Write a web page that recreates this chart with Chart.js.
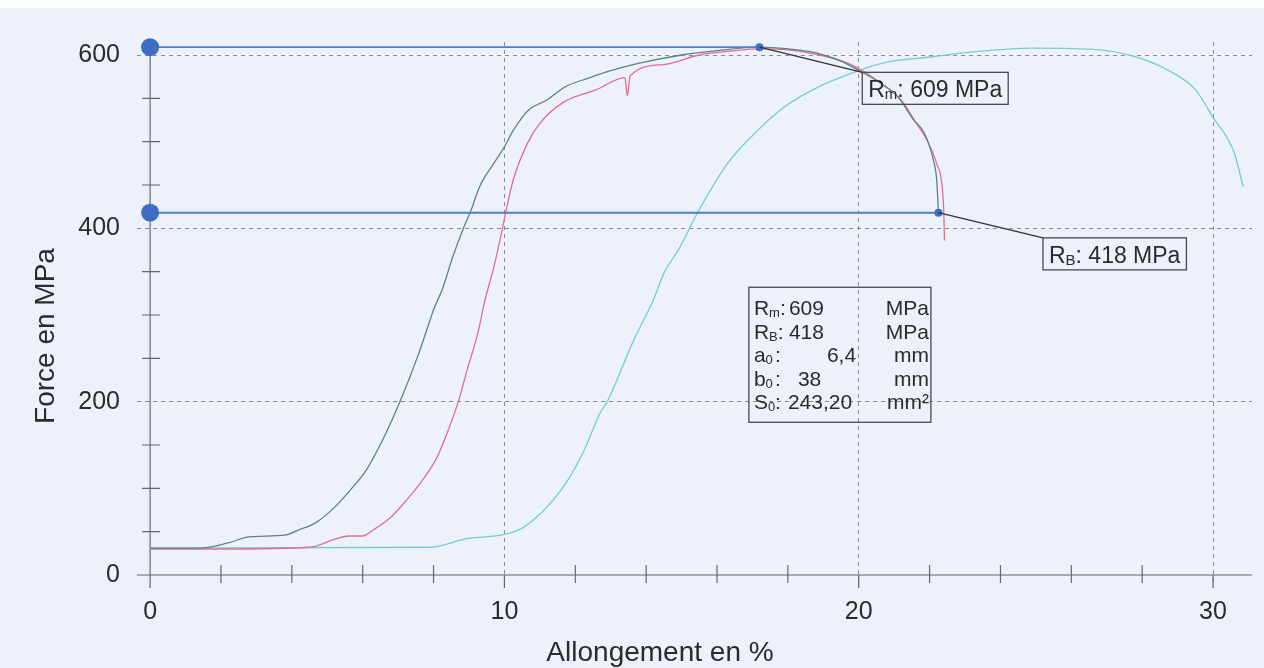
<!DOCTYPE html>
<html>
<head>
<meta charset="utf-8">
<script src="https://cdn.jsdelivr.net/npm/chart.js@4.4.1/dist/chart.umd.min.js"></script>
<style>
  html, body { margin: 0; padding: 0; }
  body { width: 1264px; height: 668px; overflow: hidden;
         background: linear-gradient(#ffffff 0, #ffffff 8px, #edf1f9 8px); }
  #wrap { width: 1264px; height: 668px; position: relative; }
</style>
</head>
<body>
<div id="wrap"><canvas id="tractionChart"></canvas></div>
<script>
// essai de traction, 3 eprouvettes (allongement en %, contrainte en MPa)
const strainA = [0, 1.4, 2.2, 2.8, 3.8, 4.2, 4.7, 5.2, 5.65, 6.1, 6.6, 7.05, 7.55, 7.9, 8.0, 8.25, 8.55, 8.85, 9.05, 9.3, 9.7, 10.0, 10.25, 10.7, 11.2, 11.7, 12.35, 13.1, 13.75, 15.0, 16.0, 17.2, 18.0, 18.85, 19.5, 20.05, 20.6, 21.1, 21.55, 21.85, 22.1, 22.2, 22.25];
const stressA = [31, 31, 37, 44, 46, 52, 61, 78, 98, 121, 159, 200, 252, 294, 306, 330, 368, 401, 420, 448, 475, 494, 513, 537, 548, 563, 573, 583, 590, 600, 605, 609, 607, 602, 593, 581, 568, 552, 525, 510, 480, 456, 419];

const strainB = [0, 2, 4.5, 5.2, 5.6, 6.0, 6.3, 6.8, 7.25, 7.7, 8.1, 8.45, 8.7, 8.95, 9.25, 9.45, 9.7, 9.95, 10.05, 10.25, 10.65, 11.0, 11.65, 12.6, 13.4, 13.47, 13.55, 14.5, 15.5, 16.5, 17.2, 18.0, 18.9, 19.6, 20.1, 20.7, 21.2, 21.6, 21.95, 22.2, 22.35, 22.4, 22.42];
const stressB = [30, 30, 32, 41, 45, 45, 52, 67, 87, 110, 136, 171, 200, 237, 279, 317, 355, 401, 421, 456, 498, 521, 545, 560, 574, 553, 576, 589, 600, 605, 607, 606, 600, 592, 582, 565, 548, 523, 500, 475, 450, 420, 386];

const strainC = [0, 7.9, 8.95, 9.9, 10.4, 10.8, 11.3, 11.8, 12.25, 12.7, 12.9, 13.65, 14.2, 14.5, 14.95, 15.45, 16.3, 17.15, 17.9, 18.85, 19.8, 20.7, 22.1, 23.1, 24.9, 26.8, 27.8, 28.7, 29.5, 30.0, 30.6, 30.85];
const stressC = [31, 32, 42, 46, 52, 63, 83, 110, 144, 187, 200, 271, 317, 348, 378, 418, 475, 513, 540, 563, 579, 591, 598, 603, 608, 606, 598, 583, 560, 528, 487, 448];

// Rm et RB
const rm = 609, rmStrain = 17.2;
const rb = 418, rbStrain = 22.25;
const rmLabelAt = [20.1, 580];
const rbLabelAt = [25.2, 389];

// tableau des caracteristiques
const tableAt = [16.9, 332];
const tableLabels = ['R', 'R', 'a', 'b', 'S'];
const tableSubs = ['m', 'B', '0', '0', '0'];
const tableValues = ['609', '418', '6,4', '38', '243,20'];
const tableUnits = ['MPa', 'MPa', 'mm', 'mm', 'mm\u00b2'];

const xMajor = [0, 10, 20, 30];
const yMajor = [0, 200, 400, 600];
const xTitle = 'Allongement en %';
const yTitle = 'Force en MPa';

const FONT = "'Liberation Sans', Arial, sans-serif";
const toPoints = (xs, ys) => xs.map((v, i) => ({ x: v, y: ys[i] }));

// R + indice, renvoie la position x de fin
function drawSub(ctx, main, sub, x, base, size) {
    ctx.font = size + 'px ' + FONT;
    ctx.fillText(main, x, base);
    x += ctx.measureText(main).width;
    const s = Math.round(size * 0.64);
    ctx.font = s + 'px ' + FONT;
    ctx.fillText(sub, x, base + 2);
    return x + ctx.measureText(sub).width;
}

function drawValueBox(ctx, px, py, main, sub, rest, size) {
    ctx.save();
    ctx.fillStyle = '#2b2b2b';
    ctx.textBaseline = 'alphabetic';
    ctx.textAlign = 'left';
    let end = drawSub(ctx, main, sub, px + 6, py + size + 2, size);
    ctx.font = size + 'px ' + FONT;
    ctx.fillText(rest, end, py + size + 2);
    end += ctx.measureText(rest).width;
    ctx.strokeStyle = '#4a4a4a';
    ctx.lineWidth = 1.3;
    ctx.strokeRect(px, py, end - px + 6, size + 9);
    ctx.restore();
}

const overlay = {
    id: 'overlay',
    beforeDatasetsDraw(chart) {
        const { ctx, chartArea: a, scales: { x, y } } = chart;
        const x0 = x.getPixelForValue(0), y0 = y.getPixelForValue(0);
        ctx.save();
        ctx.strokeStyle = '#666';
        ctx.lineWidth = 1.2;
        ctx.beginPath();
        ctx.moveTo(a.left, y0); ctx.lineTo(a.right, y0);
        ctx.moveTo(x0, a.top + 4); ctx.lineTo(x0, a.bottom);
        for (let v = 2; v < 31; v += 2) {
            const px = x.getPixelForValue(v);
            if (v % 10 === 0) { ctx.moveTo(px, y0); ctx.lineTo(px, a.bottom); }
            else { ctx.moveTo(px, y0 - 10); ctx.lineTo(px, y0 + 8); }
        }
        for (let v = 50; v < 600; v += 50) {
            if (v % 200 === 0) continue;
            const py = y.getPixelForValue(v);
            ctx.moveTo(x0 - 8, py); ctx.lineTo(x0 + 10, py);
        }
        ctx.stroke();
        ctx.restore();
    },
    afterDatasetsDraw(chart) {
        const { ctx, scales: { x, y } } = chart;
        drawValueBox(ctx, x.getPixelForValue(rmLabelAt[0]), y.getPixelForValue(rmLabelAt[1]), 'R', 'm', ': ' + rm + ' MPa', 23);
        drawValueBox(ctx, x.getPixelForValue(rbLabelAt[0]), y.getPixelForValue(rbLabelAt[1]), 'R', 'B', ': ' + rb + ' MPa', 23);

        // tableau
        const tx = x.getPixelForValue(tableAt[0]), ty = y.getPixelForValue(tableAt[1]);
        const valueX = [40, 40, 78, 49, 39];
        ctx.save();
        ctx.fillStyle = '#2b2b2b';
        ctx.strokeStyle = '#4a4a4a';
        ctx.lineWidth = 1.3;
        ctx.strokeRect(tx, ty, 182, 135);
        tableLabels.forEach((lab, i) => {
            const base = ty + 28 + i * 23.5;
            ctx.textAlign = 'left';
            const end = drawSub(ctx, lab, tableSubs[i], tx + 5, base, 21);
            ctx.font = '21px ' + FONT;
            ctx.fillText(':', i < 2 ? end : tx + 26, base);
            ctx.fillText(tableValues[i], tx + valueX[i], base);
            ctx.textAlign = 'right';
            ctx.fillText(tableUnits[i], tx + 180, base);
        });
        ctx.restore();
    },
    afterDraw(chart) {
        const { ctx } = chart;
        ctx.save();
        ctx.fillStyle = '#2b2b2b';
        ctx.font = '28px ' + FONT;
        ctx.textAlign = 'center';
        ctx.textBaseline = 'middle';
        ctx.fillText(xTitle, 660, 653);
        ctx.translate(46, 336);
        ctx.rotate(-Math.PI / 2);
        ctx.fillText(yTitle, 0, 0);
        ctx.restore();
    }
};

const curve = (data, color, order) => ({
    data, borderColor: color, borderWidth: 1.3, showLine: true,
    pointRadius: 0, order, cubicInterpolationMode: 'monotone'
});
const marker = (data, order) => ({
    data, borderColor: '#4f7fc4', borderWidth: 1.8, showLine: true,
    pointRadius: [9, 4], pointBackgroundColor: '#3d6ec4', pointBorderWidth: 0,
    order, clip: false
});
const leader = (data) => ({
    data, borderColor: '#333', borderWidth: 1.3, showLine: true, pointRadius: 0, order: 0, clip: false
});

const ctx = document.getElementById('tractionChart').getContext('2d');
new Chart(ctx, {
    type: 'scatter',
    data: {
        datasets: [
            leader([{ x: rmStrain, y: rm }, { x: rmLabelAt[0], y: rmLabelAt[1] }]),
            leader([{ x: rbStrain, y: rb }, { x: rbLabelAt[0], y: rbLabelAt[1] }]),
            marker([{ x: 0, y: rm }, { x: rmStrain, y: rm }], 1),
            marker([{ x: 0, y: rb }, { x: rbStrain, y: rb }], 1),
            curve(toPoints(strainA, stressA), '#5b8486', 2),
            curve(toPoints(strainB, stressB), '#e0708e', 3),
            curve(toPoints(strainC, stressC), '#72cdd6', 4)
        ]
    },
    options: {
        responsive: true,
        maintainAspectRatio: false,
        animation: false,
        layout: { padding: { top: 42, right: 12, left: 0, bottom: 0 } },
        plugins: { legend: { display: false }, tooltip: { enabled: false } },
        scales: {
            x: {
                type: 'linear', min: -0.37, max: 31.1,
                afterFit: s => { s.height = 80; },
                border: { display: false, dash: [4, 4] },
                grid: {
                    drawTicks: false,
                    color: c => (c.tick && c.tick.value > 0 && xMajor.includes(c.tick.value)) ? '#8c8c8c' : 'transparent'
                },
                ticks: {
                    stepSize: 2, padding: 9, autoSkip: false, maxRotation: 0, includeBounds: false,
                    color: '#2b2b2b', font: { family: FONT, size: 25 },
                    callback: v => xMajor.includes(v) ? String(v) : ''
                }
            },
            y: {
                type: 'linear', min: -15, max: 615,
                afterFit: s => { s.width = 137; },
                border: { display: false, dash: [4, 4] },
                grid: {
                    drawTicks: false,
                    color: c => (c.tick && c.tick.value > 0 && yMajor.includes(c.tick.value)) ? '#8c8c8c' : 'transparent'
                },
                ticks: {
                    stepSize: 50, padding: 17, autoSkip: false, includeBounds: false,
                    color: '#2b2b2b', font: { family: FONT, size: 25 },
                    callback: v => yMajor.includes(v) ? String(v) : ''
                }
            }
        }
    },
    plugins: [overlay]
});
</script>
</body>
</html>
